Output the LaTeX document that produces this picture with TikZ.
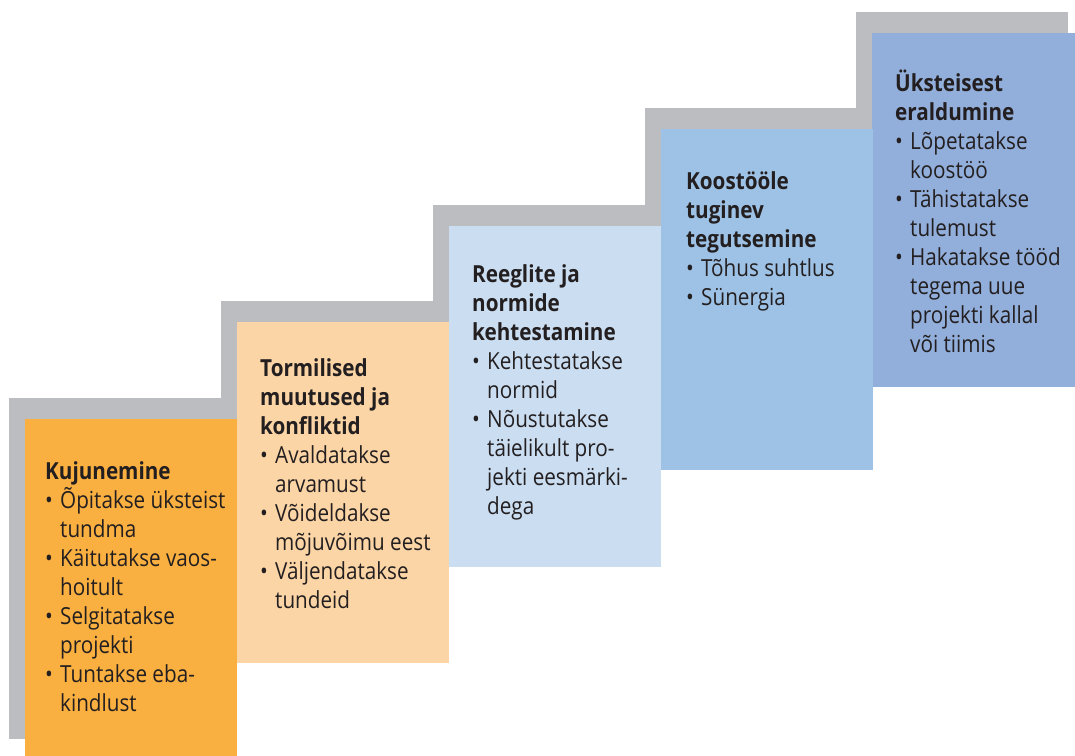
\documentclass[tikz,border=0pt]{standalone}
\usepackage{fontspec}
\setmainfont{Open Sans}[FakeStretch=0.88]
\usepackage{tikz}
\usetikzlibrary{calc}
\definecolor{stepGray}{HTML}{BCBDC1}
\definecolor{stepOrange}{HTML}{FAB041}
\definecolor{stepTan}{HTML}{FCD5A6}
\definecolor{stepSky}{HTML}{CBDDF1}
\definecolor{stepBlue}{HTML}{9EC2E5}
\definecolor{stepViolet}{HTML}{92AEDA}
\definecolor{stepInk}{HTML}{231F20}
\newcommand{\StepBox}[4]{
	\def\lpin{#1}
	\def\lfill{#2}
	\def\lwid{#3}
	\def\lhgt{#4}
	\fill[stepGray] ($(\lpin)+(-16,-21)$) rectangle +(\lwid,\lhgt);
	\fill[\lfill] (\lpin) rectangle +(\lwid,\lhgt);
}
\newcommand{\Head}[1]{{\bfseries\rule{0pt}{20pt}#1}}
\newcommand{\Item}[1]{\makebox[15pt][l]{•}#1}
\newcommand{\Cont}[1]{\hspace*{15pt}#1}

\begin{document}
\begin{tikzpicture}[x=1pt, y=-1pt, line cap=round,
  steptext/.style={anchor=north west, inner sep=0, align=left, text=stepInk,
    font={\fontsize{23.5}{29}\selectfont}}]

  \useasboundingbox (0,0) rectangle (1075,755);
  \clip (0,0) rectangle (1075,755);

  \coordinate (P1) at (25,419);
  \coordinate (P2) at (237,322);
  \coordinate (P3) at (449,226);
  \coordinate (P4) at (661,129);
  \coordinate (P5) at (872,33);

  % top step first, the lower ones lie over its shadow
  \StepBox{P5}{stepViolet}{212}{354}
  \StepBox{P4}{stepBlue}{212}{341}
  \StepBox{P3}{stepSky}{212}{341}
  \StepBox{P2}{stepTan}{212}{341}
  \StepBox{P1}{stepOrange}{212}{341}

  \node[steptext] (forming) at ($ (P1)+(20,40) $) {\Head{Kujunemine}\\
    \Item{Õpitakse üksteist}\\ \Cont{tundma}\\
    \Item{Käitutakse vaos-}\\ \Cont{hoitult}\\
    \Item{Selgitatakse}\\ \Cont{projekti}\\
    \Item{Tuntakse eba-}\\ \Cont{kindlust}};
  \node[steptext] (storming) at ($ (P2)+(23,34) $) {\Head{Tormilised}\\
    \Head{muutused ja}\\ \Head{konfliktid}\\
    \Item{Avaldatakse}\\ \Cont{arvamust}\\
    \Item{Võideldakse}\\ \Cont{mõjuvõimu eest}\\
    \Item{Väljendatakse}\\ \Cont{tundeid}};
  \node[steptext] (norming) at ($ (P3)+(23,36) $) {\Head{Reeglite ja}\\
    \Head{normide}\\ \Head{kehtestamine}\\
    \Item{Kehtestatakse}\\ \Cont{normid}\\
    \Item{Nõustutakse}\\ \Cont{täielikult pro-}\\ \Cont{jekti eesmärki-}\\ \Cont{dega}};
  \node[steptext] (performing) at ($ (P4)+(25,40) $) {\Head{Koostööle}\\
    \Head{tuginev}\\ \Head{tegutsemine}\\
    \Item{Tõhus suhtlus}\\
    \Item{Sünergia}};
  \node[steptext] (adjourning) at ($ (P5)+(23,37) $) {\Head{Üksteisest}\\
    \Head{eraldumine}\\
    \Item{Lõpetatakse}\\ \Cont{koostöö}\\
    \Item{Tähistatakse}\\ \Cont{tulemust}\\
    \Item{Hakatakse tööd}\\ \Cont{tegema uue}\\ \Cont{projekti kallal}\\ \Cont{või tiimis}};

\end{tikzpicture}
\end{document}
